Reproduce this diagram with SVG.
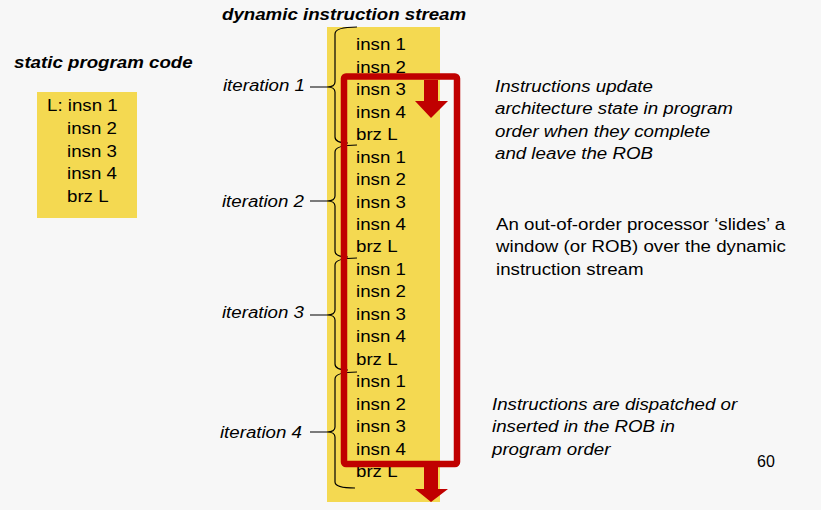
<svg xmlns="http://www.w3.org/2000/svg" width="821" height="510" viewBox="0 0 821 510">
<defs>
<style>
text{font-family:"Liberation Sans",Arial,sans-serif;font-size:17px;fill:#000}
.bi{font-weight:bold;font-style:italic}
.it{font-style:italic}
.lab{font-style:italic;text-anchor:end}
.brace{fill:none;stroke:#000;stroke-width:1.2}
.yel{fill:#f4d951}
.red{fill:#c00000}
</style>
</defs>
<rect width="821" height="510" fill="#f7f7f7"/>
<g transform="translate(222,0) scale(1.1,1)"><text class="bi" x="0" y="20">dynamic instruction stream</text></g>
<g transform="translate(14,0) scale(1.1,1)"><text class="bi" x="0" y="68">static program code</text></g>
<g id="static-code">
<rect class="yel" x="37" y="92" width="100" height="126"/>
<g transform="translate(47,0) scale(1.1,1)"><text x="0" y="111">L: insn 1</text></g>
<g transform="translate(67,0) scale(1.1,1)">
<text x="0" y="134">insn 2</text>
<text x="0" y="157">insn 3</text>
<text x="0" y="179">insn 4</text>
<text x="0" y="202">brz L</text>
</g>
</g>
<g id="stream">
<rect class="yel" x="327" y="27" width="113" height="475"/>
<g transform="translate(356,0) scale(1.1,1)">
<text x="0" y="50">insn 1</text>
<text x="0" y="73">insn 2</text>
<text x="0" y="95">insn 3</text>
<text x="0" y="118">insn 4</text>
<text x="0" y="140">brz L</text>
<text x="0" y="163">insn 1</text>
<text x="0" y="185">insn 2</text>
<text x="0" y="208">insn 3</text>
<text x="0" y="230">insn 4</text>
<text x="0" y="252">brz L</text>
<text x="0" y="275">insn 1</text>
<text x="0" y="297">insn 2</text>
<text x="0" y="320">insn 3</text>
<text x="0" y="342">insn 4</text>
<text x="0" y="365">brz L</text>
<text x="0" y="387">insn 1</text>
<text x="0" y="410">insn 2</text>
<text x="0" y="432">insn 3</text>
<text x="0" y="455">insn 4</text>
<text x="0" y="477">brz L</text>
</g>
</g>
<g id="iteration-1">
<g transform="translate(305,0) scale(1.1,1)"><text class="lab" x="0" y="91">iteration 1</text></g>
<path class="brace" d="M357,27 Q335,27 335,34 L335,82 Q335,87 327,87 Q335,87 335,92 L335,137 Q335,143 348,143 M310,87 L327,87"/>
</g>
<g id="iteration-2">
<g transform="translate(304,0) scale(1.1,1)"><text class="lab" x="0" y="207">iteration 2</text></g>
<path class="brace" d="M357,145 Q335,145 335,152 L335,196 Q335,201 327,201 Q335,201 335,206 L335,251 Q335,257 348,257 M310,201 L327,201"/>
</g>
<g id="iteration-3">
<g transform="translate(304,0) scale(1.1,1)"><text class="lab" x="0" y="318">iteration 3</text></g>
<path class="brace" d="M357,258 Q335,258 335,265 L335,310 Q335,315 327,315 Q335,315 335,320 L335,364 Q335,370 348,370 M310,315 L327,315"/>
</g>
<g id="iteration-4">
<g transform="translate(302,0) scale(1.1,1)"><text class="lab" x="0" y="438">iteration 4</text></g>
<path class="brace" d="M357,372 Q335,372 335,379 L335,427 Q335,432 327,432 Q335,432 335,437 L335,482 Q335,488 355,488 M310,432 L327,432"/>
</g>
<g id="rob">
<rect x="344" y="76.5" width="113" height="387.5" rx="2" fill="none" stroke="#c00000" stroke-width="6.5"/>
<polygon class="red" points="424,80 438,80 438,101 448,101 431,118 415,101 424,101"/>
<polygon class="red" points="424,467 438,467 438,489 448,489 431,502 415,489 424,489"/>
</g>
<g id="notes">
<g transform="translate(495,0) scale(1.1,1)">
<text class="it" x="0" y="92">Instructions update</text>
<text class="it" x="0" y="114">architecture state in program</text>
<text class="it" x="0" y="137">order when they complete</text>
<text class="it" x="0" y="159">and leave the ROB</text>
</g>
<g transform="translate(496,0) scale(1.1,1)">
<text x="0" y="230">An out-of-order processor ‘slides’ a</text>
<text x="0" y="252">window (or ROB) over the dynamic</text>
<text x="0" y="275">instruction stream</text>
</g>
<g transform="translate(492,0) scale(1.1,1)">
<text class="it" x="0" y="410">Instructions are dispatched or</text>
<text class="it" x="0" y="432">inserted in the ROB in</text>
<text class="it" x="0" y="455">program order</text>
</g>
<text x="757" y="467" style="font-size:16px">60</text>
</g>
</svg>
